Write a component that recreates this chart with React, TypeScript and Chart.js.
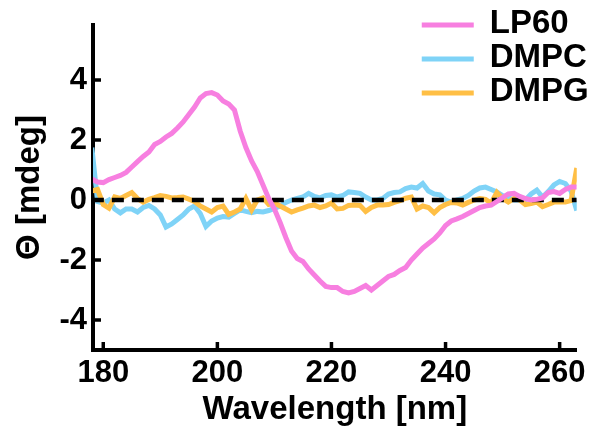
import React, { useEffect, useRef } from 'react';
import { Chart, registerables } from 'chart.js';

Chart.register(...registerables);

// ---- data ----
const wavelength = [
  178, 179, 180, 181, 182, 183, 184, 185, 186, 187, 188, 189, 190, 191, 192, 193, 194, 195, 196, 197,
  198, 199, 200, 201, 202, 203, 204, 205, 206, 207, 208, 209, 210, 211, 212, 213, 214, 215, 216, 217,
  218, 219, 220, 221, 222, 223, 224, 225, 226, 227, 228, 229, 230, 231, 232, 233, 234, 235, 236, 237,
  238, 239, 240, 241, 242, 243, 244, 245, 246, 247, 248, 249, 250, 251, 252, 253, 254, 255, 256, 257,
  258, 259, 260, 261, 262, 263,
];

const lp60 = [
  0.7, 0.6, 0.58, 0.68, 0.75, 0.82, 0.92, 1.1, 1.28, 1.45, 1.6, 1.85, 1.95, 2.1, 2.22, 2.4, 2.6, 2.85, 3.1, 3.4,
  3.55, 3.58, 3.5, 3.3, 3.2, 3.0, 2.3, 1.75, 1.3, 0.95, 0.5, 0.05, -0.3, -0.75, -1.25, -1.7, -1.95, -2.05, -2.3, -2.5,
  -2.7, -2.88, -2.92, -2.92, -3.05, -3.1, -3.05, -2.95, -2.85, -3.0, -2.85, -2.7, -2.55, -2.48, -2.35, -2.25, -2.0, -1.8, -1.6, -1.45,
  -1.3, -1.1, -0.85, -0.7, -0.63, -0.55, -0.45, -0.35, -0.25, -0.2, -0.17, -0.05, 0.08, 0.2, 0.22, 0.12, 0.05, 0.0, 0.02, 0.07,
  0.25, 0.28, 0.22, 0.35, 0.43, 0.43,
];

const dmpc = [
  1.75, -0.05, -0.1, 0.0, -0.3, -0.43, -0.3, -0.3, -0.4, -0.25, -0.18, -0.3, -0.5, -0.9, -0.8, -0.65, -0.5, -0.3, -0.2, -0.45,
  -0.88, -0.7, -0.6, -0.55, -0.57, -0.45, -0.33, -0.38, -0.42, -0.38, -0.4, -0.35, -0.28, -0.2, -0.08, 0.0, 0.05, 0.1, 0.22, 0.12,
  0.07, 0.15, 0.17, 0.1, 0.15, 0.27, 0.25, 0.22, 0.1, 0.0, 0.0, 0.05, 0.2, 0.25, 0.27, 0.38, 0.43, 0.4, 0.55, 0.3,
  0.2, 0.17, 0.0, -0.07, 0.0, 0.05, 0.15, 0.3, 0.4, 0.43, 0.35, 0.27, 0.15, 0.08, 0.0, 0.0, 0.0, 0.2, 0.33, 0.1,
  0.28, 0.5, 0.62, 0.55, 0.3, -0.35,
];

const dmpg = [
  0.3, 0.35, -0.15, -0.27, 0.1, 0.05, 0.15, 0.25, 0.05, -0.07, 0.02, 0.08, 0.15, 0.12, 0.07, 0.08, 0.1, 0.03, -0.05, -0.2,
  -0.3, -0.4, -0.25, -0.2, -0.48, -0.4, -0.3, 0.05, -0.33, 0.0, 0.07, -0.15, -0.1, -0.2, -0.3, -0.4, -0.33, -0.27, -0.2, -0.17,
  -0.25, -0.2, -0.1, -0.3, -0.28, -0.18, -0.17, -0.18, -0.38, -0.25, -0.17, -0.17, -0.15, -0.08, -0.02, 0.06, 0.1, -0.3, -0.2, -0.25,
  -0.43, -0.25, -0.15, -0.08, -0.1, -0.17, -0.08, 0.0, 0.05, 0.02, -0.1, 0.25, 0.05, -0.07, 0.05, 0.0, -0.15, -0.12, -0.07, -0.22,
  -0.15, -0.07, -0.07, -0.07, -0.02, 1.07,
];

const seriesNames = ['LP60', 'DMPC', 'DMPG'];
const xTicks = [180, 200, 220, 240, 260];
const yTicks = [-4, -2, 0, 2, 4];
const xTitle = 'Wavelength [nm]';
const yTitle = 'Θ [mdeg]';

const FONT = '"Liberation Sans", Arial, Helvetica, sans-serif';
const COLORS = ['#f77fe0', '#7fd3f7', '#ffbf45'];

const toPoints = (ys: number[]) => ys.map((y, i) => ({ x: wavelength[i], y }));

const inwardTicks = {
  id: 'inwardTicks',
  afterDraw(chart: any) {
    const { ctx, chartArea } = chart;
    const xs = chart.scales.x;
    const ys = chart.scales.y;
    ctx.save();
    ctx.strokeStyle = '#000';
    ctx.lineWidth = 3.5;
    ctx.lineCap = 'butt';
    xs.ticks.forEach((t: any) => {
      const px = xs.getPixelForValue(t.value);
      ctx.beginPath();
      ctx.moveTo(px, chartArea.bottom);
      ctx.lineTo(px, chartArea.bottom - 8);
      ctx.stroke();
    });
    ys.ticks.forEach((t: any) => {
      const py = ys.getPixelForValue(t.value);
      ctx.beginPath();
      ctx.moveTo(chartArea.left, py);
      ctx.lineTo(chartArea.left + 8, py);
      ctx.stroke();
    });
    ctx.restore();
  },
};

const cornerLegend = {
  id: 'cornerLegend',
  afterDraw(chart: any) {
    const { ctx, chartArea } = chart;
    const items = seriesNames
      .map((n) => chart.data.datasets.find((d: any) => d.label === n))
      .filter(Boolean);
    ctx.save();
    ctx.font = `bold 33px ${FONT}`;
    ctx.textAlign = 'left';
    ctx.textBaseline = 'alphabetic';
    const lineStart = chartArea.right - 155;
    items.forEach((d: any, i: number) => {
      const rowY = chartArea.top + i * 34;
      ctx.strokeStyle = d.borderColor;
      ctx.lineWidth = 5;
      ctx.beginPath();
      ctx.moveTo(lineStart, rowY);
      ctx.lineTo(lineStart + 52, rowY);
      ctx.stroke();
      ctx.fillStyle = '#000';
      ctx.fillText(d.label, lineStart + 68, rowY + 8);
    });
    ctx.restore();
  },
};

export default function App() {
  const ref = useRef<HTMLCanvasElement | null>(null);

  useEffect(() => {
    if (!ref.current) return;
    const chart = new Chart(ref.current, {
      type: 'line',
      data: {
        datasets: [
          {
            label: seriesNames[0],
            data: toPoints(lp60),
            borderColor: COLORS[0],
            backgroundColor: COLORS[0],
            borderWidth: 5,
            pointRadius: 0,
            tension: 0,
            order: 0,
          },
          {
            label: 'zero',
            data: [
              { x: wavelength[0], y: 0 },
              { x: wavelength[wavelength.length - 1], y: 0 },
            ],
            borderColor: '#000',
            borderWidth: 4.5,
            borderDash: [12, 8],
            pointRadius: 0,
            order: 1,
          },
          {
            label: seriesNames[2],
            data: toPoints(dmpg),
            borderColor: COLORS[2],
            backgroundColor: COLORS[2],
            borderWidth: 5,
            pointRadius: 0,
            tension: 0,
            order: 2,
          },
          {
            label: seriesNames[1],
            data: toPoints(dmpc),
            borderColor: COLORS[1],
            backgroundColor: COLORS[1],
            borderWidth: 5,
            pointRadius: 0,
            tension: 0,
            order: 3,
          },
        ],
      },
      options: {
        responsive: false,
        animation: false,
        events: [],
        layout: { padding: { left: 0, top: 25, right: 14, bottom: 0 } },
        plugins: {
          legend: { display: false },
          tooltip: { enabled: false },
        },
        scales: {
          x: {
            type: 'linear',
            min: 178.2,
            max: 263,
            afterBuildTicks: (s: any) => {
              s.ticks = xTicks.map((v) => ({ value: v }));
            },
            afterFit: (s: any) => {
              s.height = 82;
            },
            grid: { display: false, drawTicks: false },
            border: { display: true, color: '#000', width: 4 },
            ticks: {
              color: '#000',
              padding: 5,
              maxRotation: 0,
              autoSkip: false,
              font: { family: FONT, size: 31, weight: 'bold' },
            },
            title: {
              display: true,
              text: xTitle,
              color: '#000',
              font: { family: FONT, size: 33, weight: 'bold' },
              padding: { top: 0, bottom: 2 },
            },
          },
          y: {
            type: 'linear',
            min: -5,
            max: 5.8333,
            afterBuildTicks: (s: any) => {
              s.ticks = yTicks.map((v) => ({ value: v }));
            },
            afterFit: (s: any) => {
              s.width = 93;
            },
            grid: { display: false, drawTicks: false },
            border: { display: true, color: '#000', width: 4 },
            ticks: {
              color: '#000',
              padding: 6,
              autoSkip: false,
              font: { family: FONT, size: 31, weight: 'bold' },
            },
            title: {
              display: true,
              text: yTitle,
              color: '#000',
              font: { family: FONT, size: 33, weight: 'bold' },
              padding: { top: 10, bottom: 0 },
            },
          },
        },
      } as any,
      plugins: [inwardTicks, cornerLegend],
    });
    return () => chart.destroy();
  }, []);

  return (
    <div style={{ position: 'fixed', left: 0, top: 0, width: 591, height: 432, background: '#fff' }}>
      <canvas ref={ref} width={591} height={432} style={{ width: 591, height: 432, display: 'block' }} />
    </div>
  );
}
